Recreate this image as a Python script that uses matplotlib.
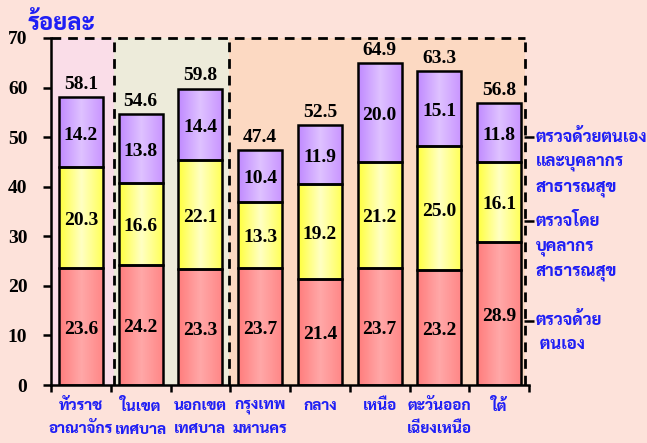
import matplotlib
matplotlib.use("Agg")
import matplotlib.pyplot as plt
import matplotlib.transforms as mtransforms
from matplotlib.colors import LinearSegmentedColormap
import numpy as np

# ---------------------------------------------------------------------------
# Data
categories = ["ทั่วราช\nอาณาจักร", "ในเขต\nเทศบาล", "นอกเขต\nเทศบาล", "กรุงเทพ\nมหานคร",
              "กลาง", "เหนือ", "ตะวันออก\nเฉียงเหนือ", "ใต้"]
self_exam = [23.6, 24.2, 23.3, 23.7, 21.4, 23.7, 23.2, 28.9]
staff_exam = [20.3, 16.6, 22.1, 13.3, 19.2, 21.2, 25.0, 16.1]
both_exam = [14.2, 13.8, 14.4, 10.4, 11.9, 20.0, 15.1, 11.8]
totals = [58.1, 54.6, 59.8, 47.4, 52.5, 64.9, 63.3, 56.8]

series_labels = ["ตรวจด้วย\n ตนเอง", "ตรวจโดย\nบุคลากร\nสาธารณสุข",
                 "ตรวจด้วยตนเอง\nและบุคลากร\nสาธารณสุข"]
series_label_at = [13, 33, 50]

group_colors = ["#FADDE8", "#EDEBDA", "#FCD9C2"]

# ---------------------------------------------------------------------------
thai = ["Sarabun", "DejaVu Sans"]
num_font = "Liberation Serif"
blue = "#1F1FF5"
bg = "#FDE2DA"

fig = plt.figure(figsize=(6.47, 4.43), dpi=100, facecolor=bg)
ax = fig.add_axes([51 / 647, 1 - 385 / 443, 478 / 647, 347 / 443])
ax.set_facecolor(bg)

x = np.arange(len(categories))

# shaded regions with dashed borders
bounds = [-0.5, 0.55, 2.48, 7.43]
for i, c in enumerate(group_colors):
    ax.axvspan(bounds[i], bounds[i + 1], color=c, zorder=0, lw=0)
ax.hlines(70, bounds[0], bounds[-1], colors="black", linestyles=(0, (3.5, 2.5)),
          lw=2, zorder=1, clip_on=False)
ax.vlines(bounds[1:], 0, 70, colors="black", linestyles=(0, (3.5, 2.5)), lw=2, zorder=1)

# stacked bars with horizontal gradient fill
width = 0.74
layers = [
    (self_exam, np.zeros(len(x)), ["#FF7C7C", "#FFA8A8", "#FF8686"]),
    (staff_exam, np.array(self_exam), ["#FFFF3C", "#FFFFC4", "#FFFF55"]),
    (both_exam, np.array(self_exam) + np.array(staff_exam), ["#C08AFF", "#DFC2FF", "#C894FF"]),
]
for vals, bottom, cols in layers:
    bars = ax.bar(x, vals, width, bottom=bottom, color=cols[0], lw=0, zorder=2)
    cmap = LinearSegmentedColormap.from_list("g", cols)
    grad = np.linspace(0, 1, 64).reshape(1, -1)
    for p in bars:
        im = ax.imshow(grad, cmap=cmap, aspect="auto", zorder=2.1,
                       extent=(p.get_x(), p.get_x() + p.get_width(),
                               p.get_y(), p.get_y() + p.get_height()))
        im.set_clip_path(p)
    ax.bar(x, vals, width, bottom=bottom, fill=False, edgecolor="black", lw=1.8, zorder=3)
    for xi, v, b in zip(x, vals, bottom):
        ax.text(xi, b + v / 2 - 0.6, f"{v:.1f}", ha="center", va="center", fontsize=14,
                fontweight="bold", family=num_font, zorder=4)

for xi, t in zip(x, totals):
    ax.annotate(f"{t:.1f}", (xi, t), xytext=(0, 3), textcoords="offset points",
                ha="center", va="bottom", fontsize=14, fontweight="bold", family=num_font)

ax.set_xlim(-0.5, len(categories) - 0.5)
ax.set_ylim(0, 70)

# axes styling
for s in ["top", "right"]:
    ax.spines[s].set_visible(False)
ax.spines["left"].set_linewidth(1.8)
ax.spines["bottom"].set_linewidth(1.8)
ax.set_yticks(range(0, 71, 10))
ax.tick_params(axis="y", length=6, width=1.8, pad=11)
for lab in ax.get_yticklabels():
    lab.set_fontfamily(num_font)
    lab.set_fontweight("bold")
    lab.set_fontsize(14)

ax.set_xticks(np.arange(-0.5, len(categories), 1.0))
ax.set_xticklabels([])
ax.tick_params(axis="x", length=5, width=1.8)
for xi, c in zip(x, categories):
    ax.annotate(c, (xi, 0), xycoords=("data", "axes fraction"), xytext=(0, -10),
                textcoords="offset points", ha="center", va="top", color=blue,
                fontsize=11, fontweight="heavy", family=thai, linespacing=1.75)

# right side series labels with ticks
tw = ax.twinx()
tw.set_ylim(0, 70)
for s in ["top", "left", "bottom", "right"]:
    tw.spines[s].set_visible(False)
tw.set_yticks(series_label_at)
tw.set_yticklabels([])
tw.tick_params(axis="y", direction="inout", length=7, width=1.8)
trans = mtransforms.blended_transform_factory(ax.transAxes, ax.transData)
for v, lab in zip(series_label_at, series_labels):
    ax.annotate(lab, (1, v), xycoords=trans, xytext=(5, 6), textcoords="offset points",
                ha="left", va="top", color=blue, fontsize=12, fontweight="heavy",
                family=thai, linespacing=1.55)

fig.text(28 / 647, 1 - 30 / 443, "ร้อยละ", color=blue, fontsize=17, fontweight="heavy",
         family=thai, ha="left", va="baseline")

fig.savefig("out.png", dpi=100, facecolor=bg)
